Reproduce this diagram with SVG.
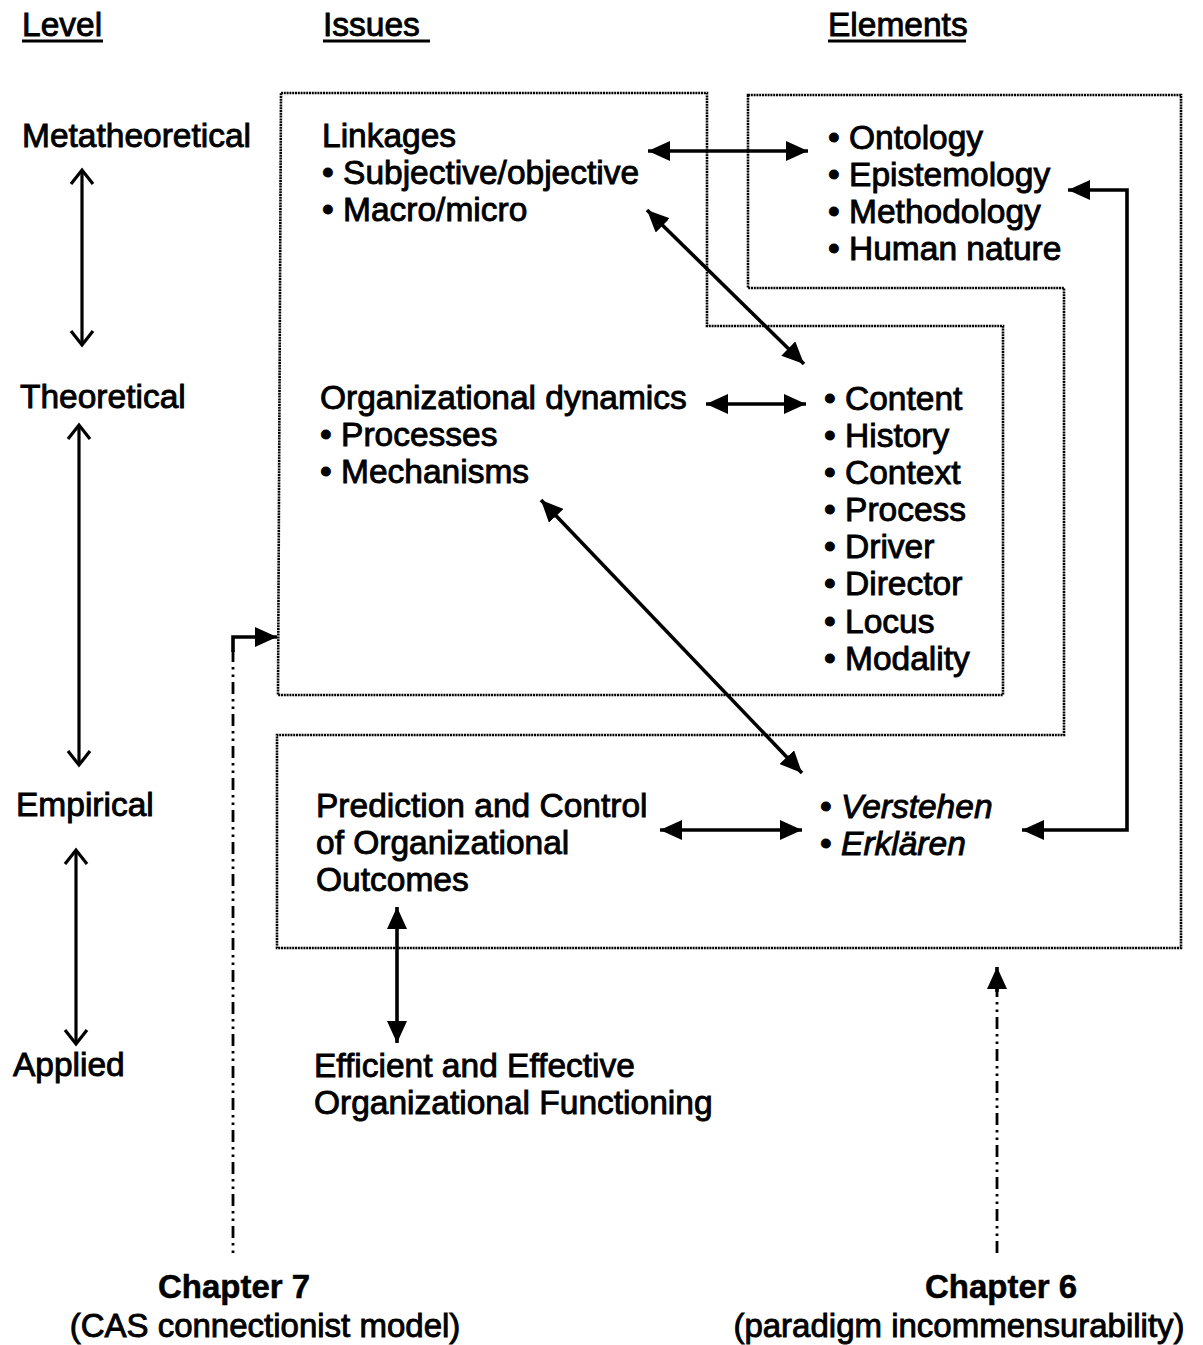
<svg xmlns="http://www.w3.org/2000/svg" width="1203" height="1345" viewBox="0 0 1203 1345">
  <defs>
    <style>
      text { font-family: "Liberation Sans", Arial, sans-serif; font-size: 33.5px; fill: #000; stroke: #000; stroke-width: 0.9; }
      .hdr { font-size: 33.5px; }
      .chap { font-weight: bold; font-size: 33px; stroke-width: 0.5; }
      .sub { font-size: 33px; }
      .it { font-style: italic; }
      .frame { fill: none; stroke: #000; stroke-width: 2.6; stroke-dasharray: 2 0.8; }
      .rule { stroke: #000; stroke-width: 2.8; }
      .link { fill: none; stroke: #000; stroke-width: 3.6; }
      .lvl { fill: none; stroke: #000; stroke-width: 3.2; }
      .chain { fill: none; stroke: #000; stroke-width: 2.8; stroke-dasharray: 12 5 2.5 5 2.5 5; }
    </style>
    <marker id="head" markerUnits="userSpaceOnUse" markerWidth="22" markerHeight="20" refX="22" refY="10" orient="auto-start-reverse">
      <path d="M0,0 L22,10 L0,20 Z" fill="#000"/>
    </marker>
    <marker id="vee" markerUnits="userSpaceOnUse" markerWidth="18" markerHeight="26" refX="15" refY="13" orient="auto-start-reverse">
      <path d="M1,2 L15,13 L1,24" fill="none" stroke="#000" stroke-width="3.2"/>
    </marker>
  </defs>

  <!-- column headings -->
  <g id="headings">
    <text class="hdr" x="22" y="36">Level</text>
    <line class="rule" x1="22" y1="41" x2="103" y2="41"/>
    <text class="hdr" x="323" y="36">Issues</text>
    <line class="rule" x1="323" y1="41" x2="430" y2="41"/>
    <text class="hdr" x="828" y="36">Elements</text>
    <line class="rule" x1="828" y1="41" x2="966" y2="41"/>
  </g>

  <!-- level labels -->
  <g id="level-metatheoretical"><text x="22" y="147">Metatheoretical</text></g>
  <g id="level-theoretical"><text x="20" y="408">Theoretical</text></g>
  <g id="level-empirical"><text x="16" y="816">Empirical</text></g>
  <g id="level-applied"><text x="13" y="1076">Applied</text></g>

  <!-- dotted frames -->
  <g id="frame-issues">
    <polygon class="frame" points="281,93 707,93 707,326 1003,326 1003,695 278,695"/>
  </g>
  <g id="frame-elements">
    <polygon class="frame" points="748,95 1181,95 1181,948 277,948 277,735 1064,735 1064,288 748,288"/>
  </g>

  <!-- issues -->
  <g id="node-linkages">
    <text x="322" y="147">Linkages</text>
    <text x="322" y="184">• Subjective/objective</text>
    <text x="322" y="221">• Macro/micro</text>
  </g>
  <g id="node-dynamics">
    <text x="320" y="409">Organizational dynamics</text>
    <text x="320" y="446">• Processes</text>
    <text x="320" y="483">• Mechanisms</text>
  </g>
  <g id="node-prediction">
    <text x="316" y="817">Prediction and Control</text>
    <text x="316" y="854">of Organizational</text>
    <text x="316" y="891">Outcomes</text>
  </g>
  <g id="node-functioning">
    <text x="314" y="1077">Efficient and Effective</text>
    <text x="314" y="1114">Organizational Functioning</text>
  </g>

  <!-- elements -->
  <g id="node-philosophy">
    <text x="828" y="149">• Ontology</text>
    <text x="828" y="186">• Epistemology</text>
    <text x="828" y="223">• Methodology</text>
    <text x="828" y="260">• Human nature</text>
  </g>
  <g id="node-change">
    <text x="824" y="410">• Content</text>
    <text x="824" y="447">• History</text>
    <text x="824" y="484">• Context</text>
    <text x="824" y="521">• Process</text>
    <text x="824" y="558">• Driver</text>
    <text x="824" y="595">• Director</text>
    <text x="824" y="633">• Locus</text>
    <text x="824" y="670">• Modality</text>
  </g>
  <g id="node-explanation">
    <text x="820" y="818">• <tspan class="it">Verstehen</tspan></text>
    <text x="820" y="855">• <tspan class="it">Erklären</tspan></text>
  </g>

  <!-- chapter references -->
  <g id="node-chapter7">
    <text class="chap" x="234" y="1298" text-anchor="middle">Chapter 7</text>
    <text class="sub" x="265" y="1337" text-anchor="middle">(CAS connectionist model)</text>
  </g>
  <g id="node-chapter6">
    <text class="chap" x="1001" y="1298" text-anchor="middle">Chapter 6</text>
    <text class="sub" x="959" y="1337" text-anchor="middle">(paradigm incommensurability)</text>
  </g>

  <!-- connectors -->
  <g id="connectors">
    <!-- level axis -->
    <line class="lvl" x1="82" y1="170" x2="82" y2="345" marker-start="url(#vee)" marker-end="url(#vee)"/>
    <line class="lvl" x1="79" y1="425" x2="79" y2="765" marker-start="url(#vee)" marker-end="url(#vee)"/>
    <line class="lvl" x1="76" y1="850" x2="76" y2="1044" marker-start="url(#vee)" marker-end="url(#vee)"/>

    <!-- issue/element links -->
    <line class="link" x1="648" y1="151" x2="808" y2="151" marker-start="url(#head)" marker-end="url(#head)"/>
    <line class="link" x1="647" y1="210" x2="804" y2="364" marker-start="url(#head)" marker-end="url(#head)"/>
    <line class="link" x1="706" y1="404" x2="806" y2="404" marker-start="url(#head)" marker-end="url(#head)"/>
    <line class="link" x1="541" y1="500" x2="802" y2="773" marker-start="url(#head)" marker-end="url(#head)"/>
    <line class="link" x1="660" y1="830" x2="802" y2="830" marker-start="url(#head)" marker-end="url(#head)"/>
    <polyline class="link" points="1068,190 1127,190 1127,830 1022,830" marker-start="url(#head)" marker-end="url(#head)"/>
    <line class="link" x1="397" y1="907" x2="397" y2="1043" marker-start="url(#head)" marker-end="url(#head)"/>

    <!-- chapter pointers -->
    <line class="chain" x1="233" y1="650" x2="233" y2="1255"/>
    <polyline class="link" points="233,652 233,637 277,637" stroke-width="3.2" marker-end="url(#head)"/>
    <line class="chain" x1="997" y1="985" x2="997" y2="1255"/>
    <line class="link" x1="997" y1="992" x2="997" y2="967" stroke-width="3.2" marker-end="url(#head)"/>
  </g>
</svg>
